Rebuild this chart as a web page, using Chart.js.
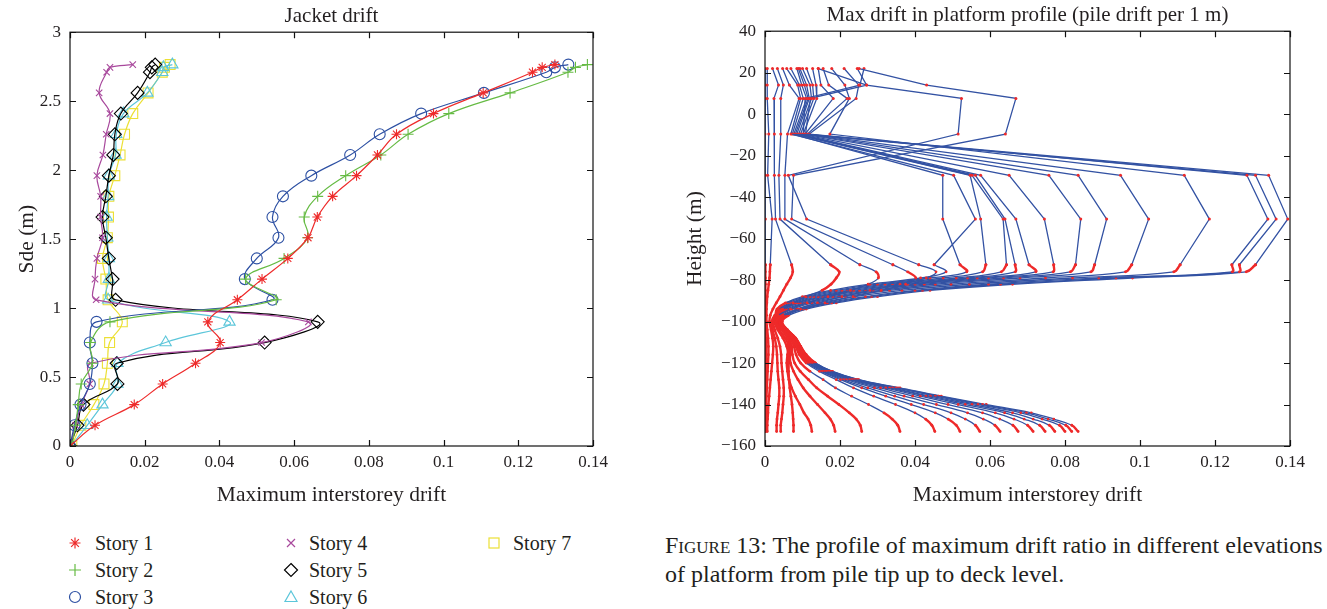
<!DOCTYPE html>
<html><head><meta charset="utf-8">
<script src="https://cdn.jsdelivr.net/npm/chart.js@4.4.1/dist/chart.umd.min.js"></script>
<style>
html,body{margin:0;padding:0;background:#fff;}
body{width:1327px;height:609px;position:relative;overflow:hidden;font-family:"Liberation Serif","DejaVu Serif",serif;color:#231f20;}
#c1{position:absolute;left:0;top:0;}
#c2{position:absolute;left:650px;top:0;}
.leg{position:absolute;font-size:20px;line-height:22px;white-space:nowrap;}
.leg svg{position:absolute;top:3px;}
.cap{position:absolute;left:665px;top:531px;font-size:24px;line-height:29px;white-space:nowrap;}
</style></head><body>
<canvas id="c1" width="615" height="515"></canvas>
<canvas id="c2" width="677" height="515"></canvas>
<div id="legend"></div>
<div class="cap"><span style="font-variant:small-caps">Figure</span> 13: The profile of maximum drift ratio in different elevations<br>of platform from pile tip up to deck level.</div>
<script>
// ---------- Left chart: Jacket drift ----------
const storyHeights = [0, 0.15, 0.3, 0.45, 0.6, 0.75, 0.9, 1.06, 1.21, 1.36, 1.51, 1.66, 1.81, 1.96, 2.11, 2.26, 2.41, 2.56, 2.71, 2.745, 2.765];
const story1 = [0, 0.0067, 0.0172, 0.0248, 0.0336, 0.0402, 0.0369, 0.0448, 0.0514, 0.0583, 0.0637, 0.0662, 0.0703, 0.0767, 0.0823, 0.0874, 0.0973, 0.1106, 0.1238, 0.1264, 0.1298];
const story2 = [0.0005, 0.0015, 0.0022, 0.003, 0.006, 0.0055, 0.0107, 0.0552, 0.047, 0.0573, 0.0636, 0.0627, 0.0663, 0.0738, 0.0832, 0.0905, 0.1014, 0.1178, 0.1333, 0.1353, 0.1385];
const story3 = [0, 0.0012, 0.0028, 0.0053, 0.006, 0.0053, 0.0071, 0.0542, 0.0468, 0.05, 0.0558, 0.0542, 0.057, 0.0646, 0.075, 0.0829, 0.094, 0.1108, 0.1275, 0.1298, 0.1334];
const story4 = [0, 0.0015, 0.003, 0.0053, 0.0055, 0.0513, 0.0638, 0.007, 0.0067, 0.0072, 0.0087, 0.0082, 0.0082, 0.0072, 0.0088, 0.0097, 0.0107, 0.0078, 0.0098, 0.0107, 0.0168];
const story5 = [0, 0.002, 0.0036, 0.0127, 0.0125, 0.0521, 0.0663, 0.0122, 0.0114, 0.0104, 0.0096, 0.0087, 0.0096, 0.0104, 0.0116, 0.012, 0.0136, 0.0181, 0.0214, 0.0219, 0.0228];
const story6 = [0.0003, 0.0046, 0.0087, 0.0127, 0.0127, 0.0256, 0.0427, 0.0102, 0.0104, 0.0104, 0.01, 0.0098, 0.0102, 0.0104, 0.0122, 0.0124, 0.0143, 0.0207, 0.0247, 0.025, 0.0274];
const story7 = [0.0005, 0.0029, 0.0064, 0.0091, 0.01, 0.0106, 0.014, 0.0102, 0.0096, 0.0087, 0.01, 0.0103, 0.0104, 0.012, 0.0134, 0.0146, 0.0168, 0.0209, 0.0247, 0.0253, 0.0268];
const storyNames = ['Story 1', 'Story 2', 'Story 3', 'Story 4', 'Story 5', 'Story 6', 'Story 7'];
const leftXTicks = [0, 0.02, 0.04, 0.06, 0.08, 0.1, 0.12, 0.14];
const leftYTicks = [0, 0.5, 1, 1.5, 2, 2.5, 3];

// ---------- Right chart: platform profile ----------
const deckHeights = [22, 14, 7.6, -9.6, -29.5, -50.6, -72.6];
const pileHeights = [-76, -79, -82, -85, -88, -91, -94, -97, -100, -104, -108, -112, -116, -120, -124, -128, -132, -136, -140, -144, -147, -150, -153];
const deckDrift = [
 [0, 0, 0, 0, 0.0001, 0.0001, 0.0001],
 [0.0006, 0.0006, 0.0006, 0.001, 0.0007, 0.0019, 0.0014],
 [0.002, 0.0036, 0.0024, 0.0025, 0.0025, 0.0028, 0.0071],
 [0.0033, 0.0049, 0.0042, 0.0042, 0.0037, 0.004, 0.0175],
 [0.0047, 0.0065, 0.0091, 0.006, 0.0053, 0.0053, 0.0253],
 [0.0251, 0.0431, 0.0669, 0.0641, 0.0076, 0.0071, 0.0341],
 [0.0246, 0.0271, 0.0524, 0.0515, 0.0062, 0.0111, 0.041],
 [0.0058, 0.0087, 0.0095, 0.0069, 0.0503, 0.0561, 0.0451],
 [0.0069, 0.0092, 0.0102, 0.0073, 0.0474, 0.0474, 0.052],
 [0.0085, 0.0098, 0.0111, 0.0077, 0.0547, 0.0575, 0.0589],
 [0.0089, 0.0105, 0.0115, 0.0081, 0.0552, 0.0635, 0.0644],
 [0.0093, 0.0111, 0.0118, 0.0085, 0.0561, 0.064, 0.0667],
 [0.01, 0.012, 0.0124, 0.009, 0.0575, 0.0669, 0.0704],
 [0.0111, 0.0127, 0.013, 0.0095, 0.0651, 0.0745, 0.077],
 [0.0127, 0.0136, 0.0138, 0.0102, 0.0757, 0.0842, 0.0828],
 [0.0142, 0.0149, 0.0182, 0.0107, 0.0835, 0.0911, 0.0879],
 [0.0155, 0.017, 0.0219, 0.0113, 0.0948, 0.1023, 0.0978],
 [0.0178, 0.0213, 0.0225, 0.0173, 0.1118, 0.1185, 0.1107],
 [0.0211, 0.025, 0.0243, 0.0118, 0.1285, 0.1341, 0.1245],
 [0.0264, 0.0253, 0.0107, 0.0102, 0.1308, 0.1363, 0.1265],
 [0.0142, 0.0271, 0.0121, 0.0108, 0.1343, 0.1394, 0.1308]
];
const pileDrift = [
 [0.0001, 0.0001, 0.0001, 0.0001, 0.0001, 0.0001, 0.0001, 0.0001, 0.0001, 0.0002, 0.0002, 0.0003, 0.0003, 0.0002, 0.0002, 0.0002, 0.0001, 0.0001, 0.0001, 0.0001, 0.0001, 0, 0],
 [0.0013, 0.0012, 0.001, 0.0008, 0.0006, 0.0005, 0.0004, 0.0004, 0.0004, 0.0006, 0.0008, 0.0009, 0.0009, 0.0008, 0.0007, 0.0006, 0.0005, 0.0004, 0.0003, 0.0003, 0.0002, 0.0002, 0.0002],
 [0.0074, 0.0068, 0.0058, 0.0049, 0.004, 0.003, 0.0021, 0.0014, 0.0012, 0.0016, 0.002, 0.0022, 0.0021, 0.0019, 0.0017, 0.0015, 0.0013, 0.0011, 0.0009, 0.0008, 0.0007, 0.0006, 0.0006],
 [0.0198, 0.019, 0.0176, 0.0152, 0.0108, 0.0075, 0.0047, 0.0026, 0.0018, 0.002, 0.0026, 0.003, 0.0032, 0.0033, 0.0034, 0.0036, 0.0038, 0.0038, 0.0036, 0.0034, 0.0032, 0.0031, 0.0031],
 [0.0296, 0.0302, 0.0275, 0.0228, 0.0168, 0.0112, 0.0068, 0.0035, 0.0022, 0.0026, 0.0034, 0.004, 0.0043, 0.0044, 0.0046, 0.0048, 0.005, 0.005, 0.0048, 0.0046, 0.0044, 0.0042, 0.0042],
 [0.038, 0.0402, 0.0375, 0.031, 0.0235, 0.016, 0.0095, 0.0048, 0.0027, 0.0034, 0.0048, 0.0058, 0.0062, 0.0063, 0.0063, 0.0064, 0.0066, 0.0069, 0.0072, 0.0074, 0.0075, 0.0076, 0.0076],
 [0.0456, 0.043, 0.036, 0.028, 0.0205, 0.014, 0.0088, 0.005, 0.003, 0.0038, 0.0054, 0.0063, 0.006, 0.0058, 0.006, 0.0064, 0.0071, 0.0081, 0.0093, 0.0104, 0.0115, 0.0122, 0.0125],
 [0.0483, 0.0415, 0.028, 0.0175, 0.01, 0.0055, 0.0032, 0.0028, 0.0026, 0.0044, 0.006, 0.0067, 0.0066, 0.0068, 0.0076, 0.0088, 0.0102, 0.012, 0.014, 0.016, 0.0174, 0.0183, 0.0187],
 [0.0538, 0.044, 0.03, 0.019, 0.011, 0.006, 0.0035, 0.0029, 0.0027, 0.0046, 0.0064, 0.0071, 0.0073, 0.0079, 0.0094, 0.0116, 0.0138, 0.0167, 0.0197, 0.0225, 0.0243, 0.0254, 0.0258],
 [0.058, 0.0475, 0.032, 0.0205, 0.012, 0.0068, 0.0038, 0.003, 0.0028, 0.0048, 0.0068, 0.0077, 0.0083, 0.0095, 0.012, 0.0155, 0.0188, 0.0231, 0.0276, 0.0317, 0.0339, 0.0354, 0.036],
 [0.063, 0.051, 0.034, 0.022, 0.013, 0.0075, 0.004, 0.0031, 0.0029, 0.005, 0.0072, 0.0082, 0.0092, 0.011, 0.0145, 0.019, 0.0236, 0.029, 0.0348, 0.04, 0.0428, 0.0445, 0.0453],
 [0.0667, 0.054, 0.036, 0.0236, 0.0142, 0.0081, 0.0044, 0.0032, 0.003, 0.0051, 0.0074, 0.0084, 0.0095, 0.0114, 0.0151, 0.0201, 0.0258, 0.0322, 0.039, 0.0454, 0.0488, 0.051, 0.052],
 [0.0722, 0.0566, 0.038, 0.0252, 0.0154, 0.0087, 0.0048, 0.0034, 0.0031, 0.0052, 0.0075, 0.0086, 0.0098, 0.0118, 0.0156, 0.0209, 0.0274, 0.0346, 0.0423, 0.0496, 0.0534, 0.0561, 0.0573],
 [0.0768, 0.0596, 0.04, 0.0268, 0.0166, 0.0094, 0.0052, 0.0036, 0.0033, 0.0054, 0.0077, 0.0088, 0.01, 0.0121, 0.0161, 0.0217, 0.0292, 0.0371, 0.0457, 0.054, 0.0582, 0.0613, 0.0627],
 [0.0814, 0.0636, 0.0425, 0.0288, 0.0181, 0.0104, 0.0057, 0.0038, 0.0035, 0.0055, 0.0078, 0.009, 0.0103, 0.0125, 0.0165, 0.0225, 0.0308, 0.0394, 0.0488, 0.058, 0.0626, 0.0661, 0.0675],
 [0.0869, 0.068, 0.0454, 0.0308, 0.0196, 0.0114, 0.0063, 0.004, 0.0036, 0.0056, 0.0079, 0.0091, 0.0105, 0.0127, 0.0169, 0.0231, 0.0322, 0.0414, 0.0515, 0.0614, 0.0664, 0.07, 0.0715],
 [0.0961, 0.0748, 0.0496, 0.0332, 0.0214, 0.0126, 0.0072, 0.0043, 0.0038, 0.0056, 0.008, 0.0092, 0.0106, 0.0129, 0.0172, 0.0236, 0.0332, 0.0429, 0.0534, 0.0639, 0.0691, 0.0732, 0.0747],
 [0.109, 0.082, 0.0545, 0.0365, 0.024, 0.0145, 0.0083, 0.0048, 0.004, 0.0057, 0.008, 0.0093, 0.0107, 0.0131, 0.0174, 0.024, 0.034, 0.0441, 0.0552, 0.066, 0.0715, 0.0758, 0.0773],
 [0.1246, 0.089, 0.0596, 0.04, 0.0268, 0.0166, 0.0094, 0.0053, 0.0042, 0.0058, 0.0081, 0.0094, 0.0108, 0.0133, 0.0177, 0.0245, 0.0349, 0.0454, 0.0568, 0.0682, 0.0739, 0.0785, 0.08],
 [0.1265, 0.0936, 0.0628, 0.042, 0.0284, 0.0178, 0.0102, 0.0057, 0.0044, 0.0059, 0.0082, 0.0095, 0.0109, 0.0134, 0.0179, 0.0248, 0.0355, 0.0463, 0.058, 0.0697, 0.0755, 0.0802, 0.0818],
 [0.1283, 0.098, 0.066, 0.044, 0.03, 0.019, 0.011, 0.0063, 0.0046, 0.006, 0.0082, 0.0095, 0.011, 0.0135, 0.018, 0.025, 0.036, 0.047, 0.059, 0.071, 0.077, 0.0818, 0.0835]
];
const rightYTicks = [40, 20, 0, -20, -40, -60, -80, -100, -120, -140, -160];

// ---------- styling ----------
const FONT = "'Liberation Serif', 'DejaVu Serif', serif";
const TXT = '#231f20';
const storyColors = ['#ee2b2b', '#66bb44', '#2d50a3', '#a8489c', '#000000', '#5cc6da', '#ece035'];
const storyMarkers = ['star', 'cross', 'circle', 'crossRot', 'rectRot', 'triangle', 'rect'];
const storyRadius = [5, 5.5, 5.5, 4.5, 6.5, 6.5, 7];
const BLUE = '#3352a3', RED = '#ee2a2a';

const pts = (xs, ys) => xs.map((v, i) => ({x: v, y: ys[i]}));

const boxTicks = {
  id: 'boxTicks',
  afterDraw(chart) {
    const {ctx, chartArea: a, scales: {x, y}} = chart;
    ctx.save();
    ctx.strokeStyle = '#111'; ctx.lineWidth = 1.2;
    ctx.strokeRect(a.left, a.top, a.right - a.left, a.bottom - a.top);
    const L = 6;
    ctx.beginPath();
    x.ticks.forEach(t => { const p = Math.round(x.getPixelForValue(t.value)) + 0.5;
      ctx.moveTo(p, a.bottom); ctx.lineTo(p, a.bottom - L); ctx.moveTo(p, a.top); ctx.lineTo(p, a.top + L); });
    y.ticks.forEach(t => { const p = Math.round(y.getPixelForValue(t.value)) + 0.5;
      ctx.moveTo(a.left, p); ctx.lineTo(a.left + L, p); ctx.moveTo(a.right, p); ctx.lineTo(a.right - L, p); });
    ctx.stroke();
    ctx.restore();
  }
};

function axisOpts(min, max, ticks, fmt, title, fit, isY, titlePad) {
  return {
    type: 'linear', min, max,
    afterBuildTicks: s => { s.ticks = ticks.map(v => ({value: v})); },
    ticks: {font: {family: FONT, size: 17}, color: TXT, padding: isY ? 9 : 6, callback: fmt, maxRotation: 0, autoSkip: false},
    grid: {display: false, drawTicks: false},
    border: {display: false},
    title: {display: true, text: title, font: {family: FONT, size: 21.5}, color: TXT, padding: titlePad},
    afterFit: fit
  };
}

const fmtX = v => String(+(+v).toFixed(2));
const fmtY1 = v => String(+(+v).toFixed(1));
const fmtY2 = v => v < 0 ? '\u2212' + Math.abs(v) : String(v);

// Left chart
const stories = [story1, story2, story3, story4, story5, story6, story7];
new Chart(document.getElementById('c1'), {
  type: 'scatter',
  data: {datasets: stories.map((s, i) => ({
    label: storyNames[i], data: pts(s, storyHeights), showLine: true,
    borderColor: storyColors[i], backgroundColor: 'transparent', borderWidth: 1.2,
    pointStyle: storyMarkers[i], pointRadius: storyRadius[i], pointBorderColor: storyColors[i],
    pointBackgroundColor: 'transparent', pointBorderWidth: 1.1, tension: 0.4
  }))},
  options: {
    animation: false, responsive: false, devicePixelRatio: 1,
    layout: {padding: {left: 0, right: 22, top: 0, bottom: 0}},
    plugins: {legend: {display: false}, tooltip: {enabled: false},
      title: {display: true, text: 'Jacket drift', fullSize: false, font: {family: FONT, size: 21, weight: 'normal'}, color: TXT, padding: {top: 4, bottom: 3}}},
    scales: {
      x: axisOpts(0, 0.14, leftXTicks, fmtX, 'Maximum interstorey drift', s => { s.height = 69; }, false, {top: 0, bottom: 7}),
      y: axisOpts(0, 3, leftYTicks, fmtY1, 'Sde (m)', s => { s.width = 70; }, true, {top: 14, bottom: 0})
    }
  },
  plugins: [boxTicks]
});

// Right chart
const rDatasets = [];
deckDrift.forEach((row, i) => {
  rDatasets.push({data: pts(row, deckHeights), showLine: true, borderColor: BLUE, borderWidth: 1.3,
    pointRadius: 1.5, pointBackgroundColor: RED, pointBorderWidth: 0, tension: 0});
  const top = {x: row[row.length - 1], y: deckHeights[deckHeights.length - 1]};
  rDatasets.push({data: [top].concat(pts(pileDrift[i], pileHeights)), showLine: true, borderColor: BLUE, borderWidth: 1.3,
    pointRadius: 1.4, pointBackgroundColor: RED, pointBorderWidth: 0, tension: 0.4,
    segment: {
      borderColor: c => (Math.abs(c.p1.x - c.p0.x) < 1.45 * Math.abs(c.p1.y - c.p0.y)) ? RED : BLUE,
      borderWidth: c => (Math.abs(c.p1.x - c.p0.x) < 1.45 * Math.abs(c.p1.y - c.p0.y)) ? 2.4 : 1.3
    }});
});
new Chart(document.getElementById('c2'), {
  type: 'scatter',
  data: {datasets: rDatasets},
  options: {
    animation: false, responsive: false, devicePixelRatio: 1,
    layout: {padding: {left: 0, right: 37, top: 0, bottom: 0}},
    plugins: {legend: {display: false}, tooltip: {enabled: false},
      title: {display: true, text: 'Max drift in platform profile (pile drift per 1 m)', fullSize: false, font: {family: FONT, size: 21, weight: 'normal'}, color: TXT, padding: {top: 3, bottom: 3}}},
    scales: {
      x: axisOpts(0, 0.14, leftXTicks, fmtX, 'Maximum interstorey drift', s => { s.height = 69; }, false, {top: 0, bottom: 7}),
      y: axisOpts(-160, 40, rightYTicks, fmtY2, 'Height (m)', s => { s.width = 115; }, true, {top: 32, bottom: 0})
    }
  },
  plugins: [boxTicks]
});

// Legend (HTML)
function markerSVG(style, color) {
  let inner = '';
  if (style === 'star') inner = '<path d="M8 2.5V13.5M2.5 8H13.5M4.1 4.1L11.9 11.9M11.9 4.1L4.1 11.9"/>';
  else if (style === 'cross') inner = '<path d="M8 2V14M2 8H14"/>';
  else if (style === 'circle') inner = '<circle cx="8" cy="8" r="5.5"/>';
  else if (style === 'crossRot') inner = '<path d="M4 4L12 12M12 4L4 12"/>';
  else if (style === 'rectRot') inner = '<path d="M8 1.5L14.5 8L8 14.5L1.5 8Z"/>';
  else if (style === 'triangle') inner = '<path d="M8 2L14 12.5H2Z"/>';
  else inner = '<rect x="3" y="3" width="10" height="10"/>';
  return '<svg width="16" height="16" viewBox="0 0 16 16" fill="none" stroke="' + color + '" stroke-width="1.2">' + inner + '</svg>';
}
const legPos = [[75, 95, 543], [75, 95, 570], [75, 95, 597], [291, 309, 543], [291, 309, 570], [291, 309, 597], [494, 513, 543]];
const legEl = document.getElementById('legend');
storyNames.forEach((n, i) => {
  const [mx, tx, cy] = legPos[i];
  const d = document.createElement('div');
  d.className = 'leg';
  d.style.left = tx + 'px'; d.style.top = (cy - 11) + 'px';
  d.innerHTML = markerSVG(storyMarkers[i], storyColors[i]).replace('<svg ', '<svg style="left:' + (mx - tx - 8) + 'px" ') + n;
  legEl.appendChild(d);
});
</script>
</body></html>
